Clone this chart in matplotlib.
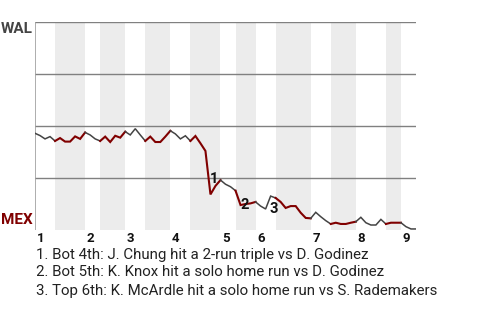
import numpy as np
import matplotlib.pyplot as plt

plt.rcParams['font.family'] = ['Roboto', 'DejaVu Sans']

# WAL win probability (%) after each plate appearance
wal_wp = [46.5, 45.4, 43.8, 44.9, 42.8, 44.2, 42.5, 42.5, 45.0, 43.8,
          46.9, 45.7, 43.8, 42.8, 44.9, 42.3, 45.3, 44.4, 47.3, 45.7,
          48.7, 45.7, 42.8, 44.9, 42.3, 42.3, 44.9, 47.7, 46.2, 43.8,
          45.3, 42.8, 45.2, 41.7, 38.0, 17.1, 21.2, 24.0, 22.0, 20.8,
          18.9, 12.0, 12.5, 12.8, 13.5, 11.5, 10.1, 16.3, 15.4, 13.5,
          10.6, 11.5, 11.5, 8.3, 5.8, 5.6, 8.5, 6.4, 4.5, 2.9,
          3.5, 2.9, 2.9, 3.5, 4.0, 6.1, 3.5, 2.4, 2.4, 5.1,
          2.9, 3.5, 3.5, 3.5, 1.6, 0.5, 0.5]

# plate appearance index where each half inning starts (last = end of game)
half_starts = [0, 4, 10, 13, 18, 22, 27, 31, 37, 40, 44, 48, 55, 59, 64, 70, 73, 76]
inning_labels = ["1", "2", "3", "4", "5", "6", "7", "8", "9"]

# key plays: label, PA position, win prob where the marker text sits
key_labels = ["1", "2", "3"]
key_x = [35.7, 41.9, 47.7]
key_y = [24.7, 11.8, 10.1]
notes = [
    "1. Bot 4th: J. Chung hit a 2-run triple vs D. Godinez",
    "2. Bot 5th: K. Knox hit a solo home run vs D. Godinez",
    "3. Top 6th: K. McArdle hit a solo home run vs S. Rademakers",
]

away_col = "#444444"
home_col = "#800000"

fig = plt.figure(figsize=(4.8, 3.2), dpi=100)
ax = fig.add_axes([35 / 480, 90 / 320, 381 / 480, 208 / 320])

x = np.arange(len(wal_wp))
wp = np.array(wal_wp)

# shaded bottom halves + line pieces coloured by batting team
for k in range(len(half_starts) - 1):
    a, b = half_starts[k], half_starts[k + 1]
    bottom = k % 2 == 1
    if bottom:
        ax.axvspan(a, b, color="#ececec", lw=0, zorder=0)
    ax.plot(x[a:b + 1], wp[a:b + 1], color=home_col if bottom else away_col,
            lw=1.5 if bottom else 1.1, zorder=3, solid_joinstyle="miter")

for yv in [25, 50, 75, 100]:
    ax.axhline(yv, color="#808080", lw=1.0, zorder=1)
ax.axvline(0, color="#a0a0a0", lw=1.2, zorder=1)

ax.set_xlim(0, half_starts[-1])
ax.set_ylim(0, 100)
ax.axis("off")

# inning numbers under the chart
for i, lab in enumerate(inning_labels):
    ax.text(half_starts[2 * i] + 0.3, -3.9, lab, ha="left", va="center",
            fontsize=9.5, fontweight="bold", color="#111111")

for lab, kx, ky in zip(key_labels, key_x, key_y):
    ax.text(kx, ky, lab, ha="center", va="center", fontsize=10.5,
            fontweight="bold", color="#111111", zorder=5)

fig.text(33 / 480, 1 - 28.8 / 320, "WAL", ha="right", va="center",
         fontsize=11, fontweight="bold", color="#444444")
fig.text(33 / 480, 1 - 220.5 / 320, "MEX", ha="right", va="center",
         fontsize=11, fontweight="bold", color=home_col)

for j, line in enumerate(notes):
    fig.text(36 / 480, 1 - (254.5 + 18 * j) / 320, line, ha="left",
             va="center", fontsize=10.8, color="#222222")

fig.savefig("out.png", dpi=100)
